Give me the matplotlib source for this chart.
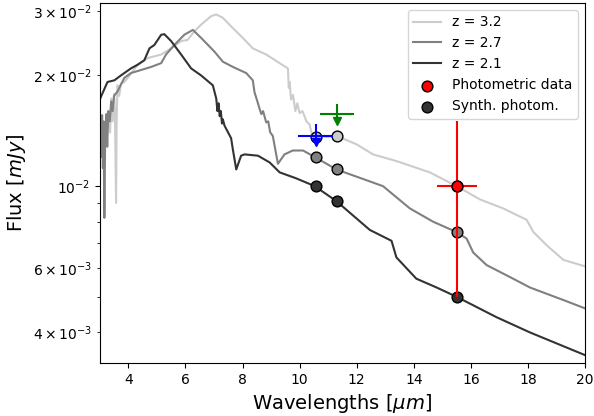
import numpy as np
import matplotlib
matplotlib.use("Agg")
import matplotlib.pyplot as plt

# ── Spektren ──────────────────────────────────────────────────────────────────
wl_32 = [3.30, 3.36, 3.40, 3.44, 3.47, 3.50, 3.53, 3.55, 3.57, 3.59, 3.62, 3.68, 3.74,
         3.86, 3.98, 4.33, 4.68, 5.15, 5.50, 5.85, 6.08, 6.32, 6.55, 6.90, 7.08, 7.31,
         7.66, 8.01, 8.36, 8.83, 9.30, 9.59, 9.62, 9.65, 9.70, 9.77, 9.85, 9.92, 10.00,
         10.10, 10.24, 10.35, 10.47, 10.59, 10.75, 10.94, 11.29, 11.99, 12.57, 13.39,
         14.56, 15.50, 16.32, 17.13, 17.95, 18.19, 18.66, 19.24, 20.0]
fl_32 = [0.0148, 0.0140, 0.0173, 0.0150, 0.0165, 0.0178, 0.0160, 0.0120, 0.0090, 0.0150,
         0.0188, 0.0176, 0.0190, 0.0192, 0.0197, 0.0214, 0.0223, 0.0228, 0.0237, 0.0248,
         0.0250, 0.0264, 0.0275, 0.0290, 0.0293, 0.0287, 0.0269, 0.0253, 0.0237, 0.0228,
         0.0216, 0.0209, 0.0185, 0.0192, 0.0172, 0.0177, 0.0160, 0.0168, 0.0158, 0.0160,
         0.0150, 0.0147, 0.0134, 0.0129, 0.0137, 0.0136, 0.0137, 0.0130, 0.0122, 0.0117,
         0.0109, 0.0100, 0.0092, 0.0087, 0.0081, 0.0075, 0.0069, 0.0063, 0.00605]

wl_27 = [3.00, 3.02, 3.05, 3.08, 3.11, 3.13, 3.16, 3.19, 3.23, 3.26, 3.30, 3.35, 3.40,
         3.45, 3.50, 3.62, 3.86, 4.09, 4.45, 4.80, 5.15, 5.32, 5.61, 5.96, 6.26, 6.55,
         7.02, 7.31, 7.66, 8.13, 8.36, 8.42, 8.48, 8.54, 8.60, 8.66, 8.72, 8.83, 8.90,
         8.97, 9.06, 9.24, 9.47, 9.76, 10.12, 10.53, 11.29, 12.46, 12.92, 13.86, 14.68,
         15.50, 15.85, 16.08, 16.55, 17.48, 18.07, 19.24, 20.0]
fl_27 = [0.0150, 0.0155, 0.0120, 0.0156, 0.0112, 0.0150, 0.0082, 0.0140, 0.0157, 0.0128,
         0.0160, 0.0150, 0.0170, 0.0160, 0.0176, 0.0181, 0.0197, 0.0203, 0.0207, 0.0211,
         0.0216, 0.0228, 0.0242, 0.0258, 0.0266, 0.0253, 0.0232, 0.0218, 0.0211, 0.0203,
         0.0194, 0.0180, 0.0174, 0.0168, 0.0162, 0.0157, 0.0160, 0.0149, 0.0150, 0.0140,
         0.0137, 0.0115, 0.0122, 0.0125, 0.0125, 0.0120, 0.0111, 0.0103, 0.0100, 0.0087,
         0.0080, 0.0075, 0.0072, 0.0066, 0.0061, 0.0056, 0.0053, 0.0049, 0.00465]

wl_21 = [3.00, 3.04, 3.27, 3.51, 3.74, 4.09, 4.33, 4.56, 4.74, 4.91, 5.15, 5.26, 5.50,
         5.85, 6.20, 6.55, 6.96, 7.08, 7.12, 7.16, 7.20, 7.24, 7.28, 7.31, 7.37, 7.60,
         7.66, 7.78, 7.95, 8.07, 8.54, 8.95, 9.30, 9.88, 10.53, 11.29, 12.46, 13.22,
         13.39, 14.09, 14.80, 15.50, 16.90, 18.07, 20.0]
fl_21 = [0.0172, 0.0175, 0.0192, 0.0194, 0.0200, 0.0209, 0.0214, 0.0220, 0.0237, 0.0242,
         0.0258, 0.0259, 0.0248, 0.0228, 0.0209, 0.0200, 0.0188, 0.0173, 0.0160, 0.0168,
         0.0155, 0.0160, 0.0148, 0.0152, 0.0146, 0.0135, 0.0126, 0.0111, 0.0121, 0.0122,
         0.0121, 0.0116, 0.0109, 0.0105, 0.0100, 0.0091, 0.0076, 0.0071, 0.0064, 0.0056,
         0.0053, 0.0050, 0.0044, 0.0040, 0.00347]

# ── Photometrie ───────────────────────────────────────────────────────────────
synth_wl = [10.56, 11.3, 15.5]
synth_32 = [0.0136, 0.0137, 0.0100]
synth_27 = [0.0120, 0.0111, 0.0075]
synth_21 = [0.0100, 0.0091, 0.0050]

phot_wl, phot_fl, phot_xerr, phot_yerr = 15.5, 0.0100, 0.7, 0.005

# Obergrenzen: blau (10.56 µm), grün (11.3 µm)
lim_wl = [10.56, 11.3]
lim_fl = [0.0137, 0.0157]
lim_xerr = [0.6, 0.6]
lim_yerr_hi = [0.0011, 0.0010]
lim_yerr_lo = [0.0005, 0.0007]
lim_col = ["blue", "green"]

C32, C27, C21 = "0.8", "0.5", "0.2"

fig, ax = plt.subplots(figsize=(5.94, 4.16), dpi=100)
fig.subplots_adjust(left=0.168, right=0.985, bottom=0.127, top=0.993)

ax.plot(wl_32, fl_32, color=C32, lw=1.5, label="z = 3.2")
ax.plot(wl_27, fl_27, color=C27, lw=1.5, label="z = 2.7")
ax.plot(wl_21, fl_21, color=C21, lw=1.5, label="z = 2.1")

for vals, c in [(synth_32, C32), (synth_27, C27), (synth_21, C21)]:
    ax.scatter(synth_wl, vals, s=60, color=c, edgecolors="black", linewidths=1, zorder=4)

for x, y, xe, lo, hi, c in zip(lim_wl, lim_fl, lim_xerr, lim_yerr_lo, lim_yerr_hi, lim_col):
    ax.errorbar(x, y, xerr=xe, yerr=[[lo], [hi]], fmt="none", ecolor=c,
                elinewidth=1.5, zorder=4.5)
    ax.plot(x, y - lo, marker="v", color=c, ms=6, zorder=4.5)

ax.errorbar(phot_wl, phot_fl, xerr=phot_xerr, yerr=phot_yerr, fmt="none",
            ecolor="red", elinewidth=1.5, zorder=5)
ax.scatter(phot_wl, phot_fl, s=60, color="red", edgecolors="black", linewidths=1,
           zorder=6, label="Photometric data")
ax.scatter([], [], s=60, color=C21, edgecolors="black", linewidths=1,
           label="Synth. photom.")

ax.set_yscale("log")
ax.set_xlim(3, 20)
ax.set_ylim(3.3e-3, 3.15e-2)
ax.set_xlabel(r"Wavelengths [$\mu m$]", fontsize=14)
ax.set_ylabel(r"Flux [$mJy$]", fontsize=14)
ax.tick_params(labelsize=10)
ax.legend(loc="upper right", fontsize=10)

plt.savefig("out.png", dpi=100)
